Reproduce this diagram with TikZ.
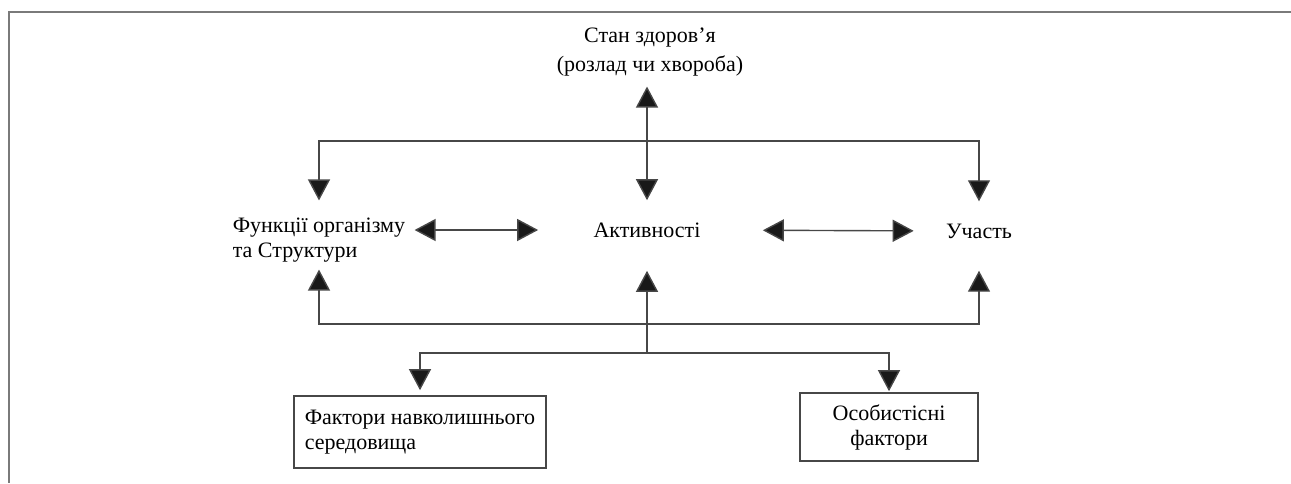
\documentclass[tikz,border=0pt]{standalone}
\usepackage{fontspec}
\setmainfont{Liberation Serif}
\usepackage{tikz}
\usetikzlibrary{arrows.meta,positioning,calc}
\definecolor{cline}{HTML}{474747}
\definecolor{cframe}{HTML}{7A7A7A}

\begin{document}
\begin{tikzpicture}[
    x=0.5pt, y=-0.5pt,
    txt/.style={inner sep=0pt, font=\fontsize{11}{12.5}\selectfont},
    box/.style={txt, draw=cline, line width=0.8pt, inner xsep=5.5pt, minimum height=36pt},
    link/.style={draw=cline, line width=0.7pt,
        -{Triangle[length=10.5pt, width=11pt, fill=black!90]}},
    both/.style={link, {Triangle[length=10.5pt, width=11pt, fill=black!90]}-{Triangle[length=10.5pt, width=11pt, fill=black!90]}},
]
\useasboundingbox (0,0) rectangle (1291,483);
% frame (cut off at right and bottom)
\draw[cframe, line width=1pt] (1291,12) -- (9,12) -- (9,483);
% nodes
\node[txt, align=center] (health) at (650,52) {Стан здоров’я\\[2pt](розлад чи хвороба)};
\node[txt, align=left] (body) at (319,240) {Функції організму\\та Структури};
\node[txt] (activ) at (647,230) {Активності};
\node[txt] (part) at (979,231) {Участь};
\node[box, align=left] (env) at (420,432) {Фактори навколишнього\\середовища};
\node[box, align=center, minimum width=89pt, minimum height=34pt] (pers) at (889,427) {Особистісні\\фактори};
% junctions
\coordinate (jtop) at (647,141);
\coordinate (jbot) at (647,324);
\coordinate (jlow) at (647,353);
% health <-> activities
\draw[both, shorten <=5pt, shorten >=11pt] (health.south -| activ) -- (activ.north);
% top branch
\draw[link, shorten >=8.5pt] (jtop) -| (body.north);
\draw[link, shorten >=11pt] (jtop) -| (part.north);
% horizontal links
\draw[both, shorten <=4.5pt, shorten >=27.5pt] (body.east |- activ.west) -- (activ.west);
\draw[both, shorten <=31pt, shorten >=16pt] (activ.east) -- (part.west);
% bottom branch
\draw[link, shorten >=3.5pt] (jbot) -| (body.south);
\draw[link, shorten >=16pt] (jbot) -| (part.south);
\draw[link, shorten >=16.5pt] (jlow) -- (activ.south);
\draw[link, shorten >=2.5pt] (jlow) -| (env.north);
\draw[link, shorten >=0.5pt] (jlow) -| (pers.north);
\end{tikzpicture}
\end{document}
